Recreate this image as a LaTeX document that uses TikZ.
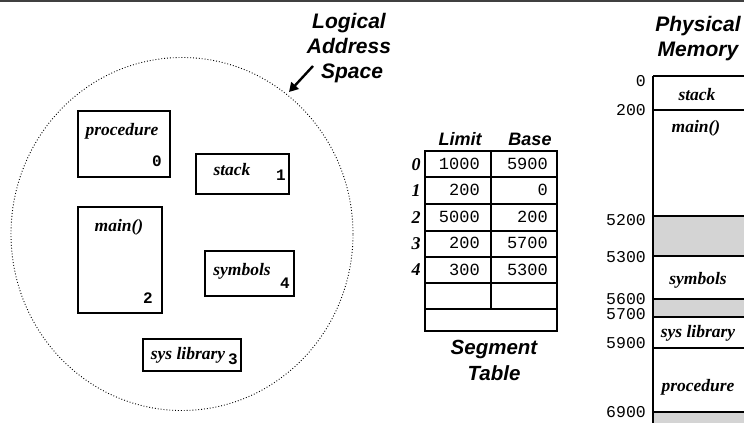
\documentclass[tikz,border=0pt]{standalone}
\usepackage{fontspec}
\setmainfont{Liberation Serif}
\setmonofont{Liberation Mono}
\newfontfamily\hfont{Liberation Sans}
\usetikzlibrary{arrows.meta,shapes.geometric}
\definecolor{memgray}{gray}{0.83}
\definecolor{topline}{gray}{0.25}
\tikzset{
  segbox/.style={draw, line width=1.3pt, inner sep=0pt},
  seglabel/.style={font=\fontsize{17.5}{19}\selectfont\bfseries\itshape, inner sep=0pt},
  segnum/.style={font=\fontsize{16}{17}\selectfont\ttfamily\bfseries, inner sep=0pt},
  title/.style={font=\fontsize{21}{25}\selectfont\hfont\bfseries\itshape, align=center, inner sep=0pt},
  cellval/.style={font=\fontsize{17}{18}\selectfont\ttfamily, inner sep=0pt, anchor=east},
  rowidx/.style={font=\fontsize{18}{19}\selectfont\bfseries\itshape, inner sep=0pt},
  addr/.style={font=\fontsize{16.5}{18}\selectfont\ttfamily, inner sep=0pt, anchor=east},
  tline/.style={line width=1.4pt},
}
\begin{document}
\begin{tikzpicture}[x=1pt,y=-1pt]
\useasboundingbox (0,0) rectangle (744,423);
\fill[white] (0,0) rectangle (744,423);
% top rule
\draw[topline, line width=2.2pt] (0,1) -- (744,1);

% logical address space
\node[draw, dotted, line width=0.9pt, ellipse, minimum width=342pt, minimum height=353pt, inner sep=0pt] (las) at (182,234) {};
\node[title] (lastitle) at (349,48) {Logical\\Address\\\hspace*{6pt}Space};
\coordinate (arrstart) at (313,66);
\coordinate (arrend) at (289,92);
\draw[line width=2.4pt, -{Triangle[length=9pt,width=10pt]}] (arrstart) -- (arrend);

% segments
\node[segbox, minimum width=92pt, minimum height=66pt] (proc) at (124,144) {};
\node[seglabel] (proclab) at (122,131) {procedure};
\node[segnum] (procnum) at (157,161) {0};

\node[segbox, minimum width=93pt, minimum height=40pt] (stack) at (242.5,174) {};
\node[seglabel] (stacklab) at (232,170) {stack};
\node[segnum] (stacknum) at (281,175) {1};

\node[segbox, minimum width=84pt, minimum height=106pt] (main) at (120,260) {};
\node[seglabel] (mainlab) at (119,227) {main()};
\node[segnum] (mainnum) at (148,298) {2};

\node[segbox, minimum width=89pt, minimum height=45pt] (sym) at (249.5,273.5) {};
\node[seglabel] (symlab) at (242,271) {symbols};
\node[segnum] (symnum) at (285,283) {4};

\node[segbox, minimum width=98pt, minimum height=32pt] (sys) at (192,355) {};
\node[seglabel] (syslab) at (188,355) {sys library};
\node[segnum] (sysnum) at (233,359) {3};

% segment table
\draw[tline] (425,151) rectangle (557,331);
\foreach \y in {177,204,231,257,283,309} \draw[tline] (425,\y) -- (557,\y);
\draw[tline] (491,151) -- (491,309);
\node[font=\fontsize{18}{19}\selectfont\hfont\bfseries\itshape, inner sep=0pt] (limh) at (460,139) {Limit};
\node[font=\fontsize{18}{19}\selectfont\hfont\bfseries\itshape, inner sep=0pt] (baseh) at (530,139) {Base};
\node[rowidx] (r0) at (416,165) {0};
\node[rowidx] (r1) at (416,191) {1};
\node[rowidx] (r2) at (416,218) {2};
\node[rowidx] (r3) at (416,244) {3};
\node[rowidx] (r4) at (416,270) {4};
\node[cellval] (l0) at (480,164) {1000};
\node[cellval] (b0) at (548,164) {5900};
\node[cellval] (l1) at (480,190) {200};
\node[cellval] (b1) at (548,190) {0};
\node[cellval] (l2) at (480,217) {5000};
\node[cellval] (b2) at (548,217) {200};
\node[cellval] (l3) at (480,243) {200};
\node[cellval] (b3) at (548,243) {5700};
\node[cellval] (l4) at (480,270) {300};
\node[cellval] (b4) at (548,270) {5300};
\node[title, font=\fontsize{20.5}{26}\selectfont\hfont\bfseries\itshape] (segtitle) at (494,360) {Segment\\Table};

% physical memory
\fill[memgray] (653,216) rectangle (744,256);
\fill[memgray] (653,299) rectangle (744,317);
\fill[memgray] (653,412) rectangle (744,423);
\foreach \y in {76,110,216,256,299,317,348,412} \draw[tline] (653,\y) -- (744,\y);
\draw[line width=2pt] (653,76) -- (653,423);
\node[title] (pmtitle) at (698,39) {Physical\\Memory};
\node[addr] (a0) at (646,81) {0};
\node[addr] (a200) at (646,110) {200};
\node[addr] (a5200) at (646,220) {5200};
\node[addr] (a5300) at (646,257) {5300};
\node[addr] (a5600) at (646,299) {5600};
\node[addr] (a5700) at (646,314) {5700};
\node[addr] (a5900) at (646,343) {5900};
\node[addr] (a6900) at (646,412) {6900};
\node[seglabel] (mstack) at (697,95) {stack};
\node[seglabel] (mmain) at (696,128) {main()};
\node[seglabel] (msym) at (698,280) {symbols};
\node[seglabel] (msys) at (698,333) {sys library};
\node[seglabel] (mproc) at (698,387) {procedure};
\end{tikzpicture}
\end{document}
